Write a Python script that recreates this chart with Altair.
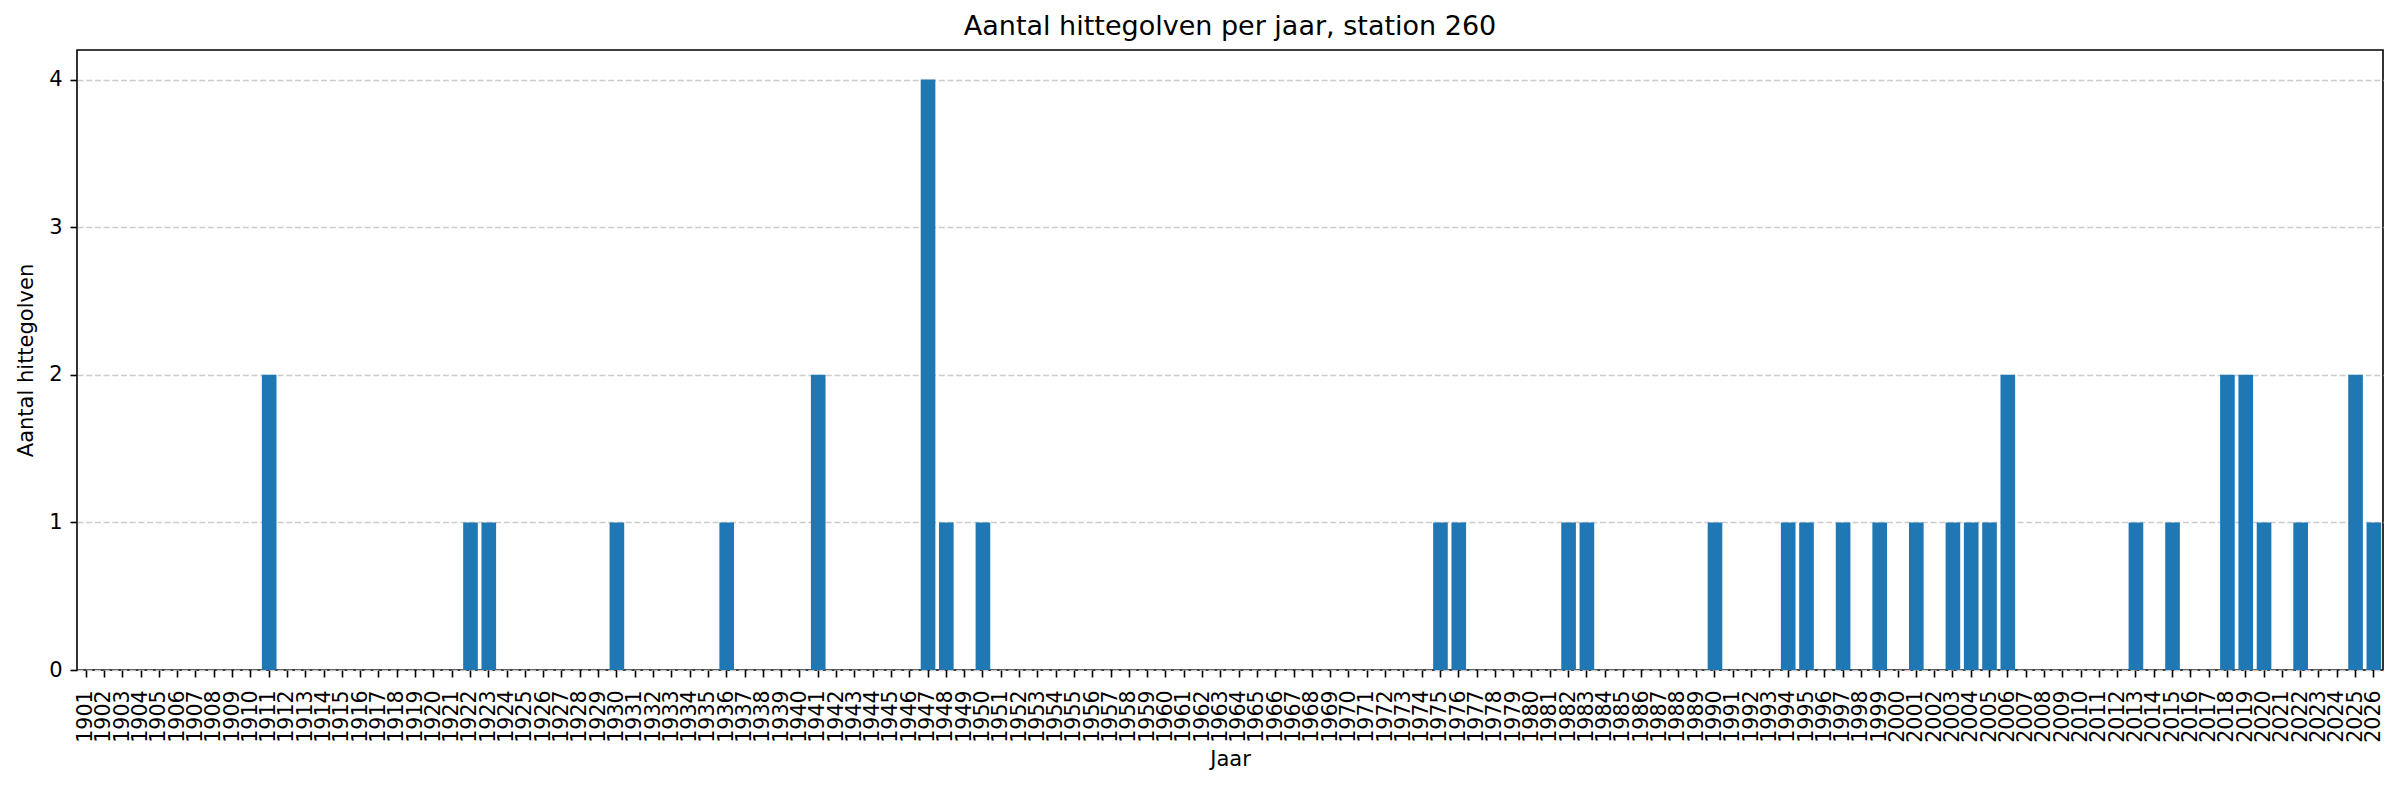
import altair as alt
import pandas as pd

# Categories: years 1901..2026
years = [str(y) for y in range(1901, 2027)]

# Number of heat waves per year
counts = [
    0, 0, 0, 0, 0, 0, 0, 0, 0, 0,   # 1901-1910
    2, 0, 0, 0, 0, 0, 0, 0, 0, 0,   # 1911-1920
    0, 1, 1, 0, 0, 0, 0, 0, 0, 1,   # 1921-1930
    0, 0, 0, 0, 0, 1, 0, 0, 0, 0,   # 1931-1940
    2, 0, 0, 0, 0, 0, 4, 1, 0, 1,   # 1941-1950
    0, 0, 0, 0, 0, 0, 0, 0, 0, 0,   # 1951-1960
    0, 0, 0, 0, 0, 0, 0, 0, 0, 0,   # 1961-1970
    0, 0, 0, 0, 1, 1, 0, 0, 0, 0,   # 1971-1980
    0, 1, 1, 0, 0, 0, 0, 0, 0, 1,   # 1981-1990
    0, 0, 0, 1, 1, 0, 1, 0, 1, 0,   # 1991-2000
    1, 0, 1, 1, 1, 2, 0, 0, 0, 0,   # 2001-2010
    0, 0, 1, 0, 1, 0, 0, 2, 2, 1,   # 2011-2020
    0, 1, 0, 0, 2, 1,               # 2021-2026
]

y_ticks = [0, 1, 2, 3, 4]

title_text = "Aantal hittegolven per jaar, station 260"
x_title = "Jaar"
y_title = "Aantal hittegolven"

df = pd.DataFrame({"Jaar": years, "Aantal": counts})

FONT = "DejaVu Sans"

chart = alt.Chart(df).mark_bar(color="#1f77b4").encode(
    x=alt.X(
        "Jaar:O",
        title=x_title,
        sort=years,
        scale=alt.Scale(paddingInner=0.2, paddingOuter=0.1),
        axis=alt.Axis(
            labelAngle=270,
            labelOverlap=False,
            labelBound=False,
            labelFont=FONT,
            labelFontSize=20.5,
            labelColor="black",
            labelPadding=13,
            tickSize=7,
            tickWidth=1.6,
            tickColor="black",
            domain=False,
            grid=False,
            titleFont=FONT,
            titleFontSize=21,
            titleFontWeight="normal",
            titleColor="black",
            titlePadding=6,
        ),
    ),
    y=alt.Y(
        "Aantal:Q",
        title=y_title,
        scale=alt.Scale(domain=[0, 4.2], nice=False, zero=True),
        axis=alt.Axis(
            values=y_ticks,
            format="d",
            labelFont=FONT,
            labelFontSize=21,
            labelColor="black",
            labelPadding=8,
            tickSize=7,
            tickWidth=1.6,
            tickColor="black",
            domain=False,
            grid=True,
            gridColor="#cccccc",
            gridDash=[6, 2.7],
            gridWidth=1.6,
            titleFont=FONT,
            titleFontSize=21,
            titleFontWeight="normal",
            titleColor="black",
            titlePadding=12,
        ),
    ),
).properties(
    width=2306,
    height=620,
    title=alt.TitleParams(
        text=title_text,
        font=FONT,
        fontSize=27,
        fontWeight="normal",
        color="black",
        anchor="middle",
        offset=9,
    ),
    autosize=alt.AutoSizeParams(type="none"),
    padding={"left": 69, "top": 42, "right": 9, "bottom": 112},
).configure_view(
    stroke="black",
    strokeWidth=1.6,
)

chart.save("out.html", embed_options={"renderer": "svg", "actions": False})
